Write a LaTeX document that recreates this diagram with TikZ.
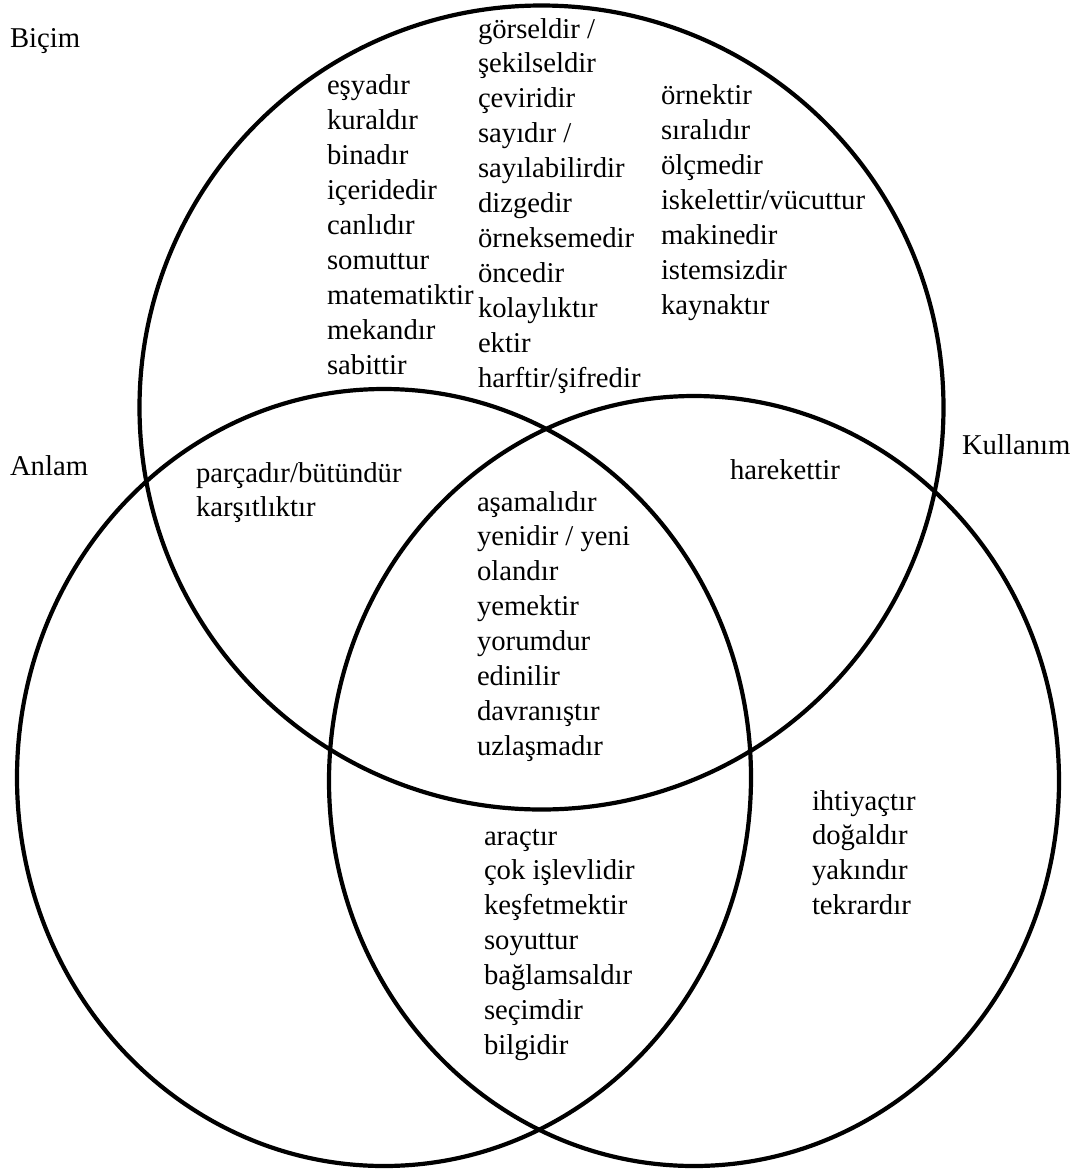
\documentclass[tikz,border=0pt]{standalone}
\usepackage{fontspec}
\setmainfont{Liberation Serif}
\begin{document}
\begin{tikzpicture}[x=1pt,y=-1pt,
  ring/.style={line width=4.2pt},
  lbl/.style={anchor=north west, inner sep=0pt, outer sep=0pt, align=left,
    font=\fontsize{28.7}{34.9}\selectfont}]
\useasboundingbox (0,0) rectangle (1078,1171);
\fill[white] (0,0) rectangle (1078,1171);
% circles
\draw[ring] (541.5,407.5) circle [radius=402];
\draw[ring] (384,777.5) ellipse [x radius=367, y radius=388.5];
\draw[ring] (694,781) ellipse [x radius=365, y radius=385];
% set titles
\node[lbl] (bicim) at (10,22.6) {\strut Biçim};
\node[lbl] (anlam) at (10,450.8) {\strut Anlam};
\node[lbl] (kullanim) at (962,429.6) {\strut Kullanım};
% Biçim only
\node[lbl] (b1) at (327,70.4) {\strut eşyadır\\kuraldır\\binadır\\içeridedir\\canlıdır\\somuttur\\matematiktir\\mekandır\\sabittir};
\node[lbl] (b2) at (478,13.6) {\strut görseldir /\\şekilseldir\\çeviridir\\sayıdır /\\sayılabilirdir\\dizgedir\\örneksemedir\\öncedir\\kolaylıktır\\ektir\\harftir/şifredir};
\node[lbl] (b3) at (661,80.3) {\strut örnektir\\sıralıdır\\ölçmedir\\iskelettir/vücuttur\\makinedir\\istemsizdir\\kaynaktır};
% Biçim & Anlam
\node[lbl] (ba) at (196,457.6) {\strut parçadır/bütündür\\karşıtlıktır};
% Biçim & Kullanım
\node[lbl] (bk) at (730,454.6) {\strut harekettir};
% all three
\node[lbl] (bak) at (477,486.6) {\strut aşamalıdır\\yenidir / yeni\\olandır\\yemektir\\yorumdur\\edinilir\\davranıştır\\uzlaşmadır};
% Anlam & Kullanım
\node[lbl] (ak) at (484,820.6) {\strut araçtır\\çok işlevlidir\\keşfetmektir\\soyuttur\\bağlamsaldır\\seçimdir\\bilgidir};
% Kullanım only
\node[lbl] (k) at (812,785.6) {\strut ihtiyaçtır\\doğaldır\\yakındır\\tekrardır};
\end{tikzpicture}
\end{document}
